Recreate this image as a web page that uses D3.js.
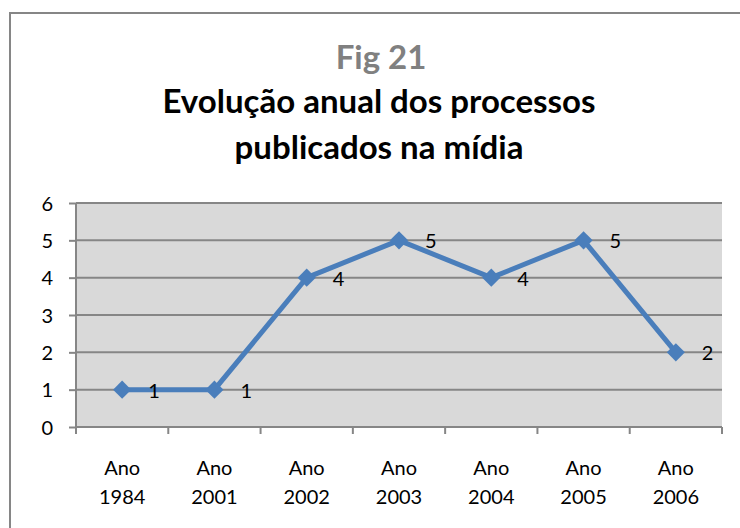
<!DOCTYPE html>
<html><head><meta charset="utf-8">
<script src="https://cdn.jsdelivr.net/npm/d3@7"></script>
<style>body{margin:0;background:#fff}svg{display:block}</style>
</head><body>
<script>
const categories = [["Ano","1984"],["Ano","2001"],["Ano","2002"],["Ano","2003"],["Ano","2004"],["Ano","2005"],["Ano","2006"]];
const values = [1,1,4,5,4,5,2];
const yTicks = [0,1,2,3,4,5,6];
const titleSup = "Fig 21";
const titleLines = ["Evolução anual dos processos","publicados na mídia"];

const W=740,H=528;
const font = "Lato, 'Open Sans', sans-serif";
const svg=d3.select("body").append("svg").attr("width",W).attr("height",H);
svg.append("rect").attr("x",10).attr("y",13).attr("width",740).attr("height",530)
  .attr("fill","#fff").attr("stroke","#868686").attr("stroke-width",2);

const m={l:76,r:722,t:203,b:427};
const x=d3.scaleBand().domain(categories.map((d,i)=>i)).range([m.l,m.r]);
const y=d3.scaleLinear().domain([0,6]).range([m.b,m.t]);

svg.append("rect").attr("x",m.l).attr("y",m.t).attr("width",m.r-m.l).attr("height",m.b-m.t).attr("fill","#d9d9d9");
// gridlines
svg.append("g").selectAll("line").data(yTicks.filter(t=>t>0)).join("line")
  .attr("x1",m.l).attr("x2",m.r).attr("y1",d=>y(d)).attr("y2",d=>y(d))
  .attr("stroke","#868686").attr("stroke-width",2);

// y axis
const ya=svg.append("g").attr("transform",`translate(${m.l},0)`)
  .call(d3.axisLeft(y).tickValues(yTicks).tickSize(7).tickPadding(16).tickFormat(d3.format("d")));
ya.select(".domain").attr("stroke","#868686").attr("stroke-width",2).attr("d",`M0,${m.t}V${m.b}`);
ya.selectAll(".tick line").attr("stroke","#868686").attr("stroke-width",2);
ya.selectAll(".tick text").attr("font-family",font).attr("font-size",20).attr("fill","#000").attr("dy","0.36em");

// x axis
const xa=svg.append("g").attr("transform",`translate(0,${m.b})`);
xa.append("line").attr("x1",m.l).attr("x2",m.r).attr("stroke","#868686").attr("stroke-width",2);
const bounds=d3.range(categories.length+1).map(i=>m.l+i*x.step());
xa.selectAll("line.t").data(bounds).join("line").attr("class","t")
  .attr("x1",d=>d).attr("x2",d=>d).attr("y1",0).attr("y2",7).attr("stroke","#868686").attr("stroke-width",2);
const xl=xa.selectAll("text").data(categories).join("text")
  .attr("font-family",font).attr("font-size",20).attr("text-anchor","middle").attr("fill","#000");
xl.append("tspan").attr("x",(d,i)=>x(i)+x.bandwidth()/2).attr("y",48).text(d=>d[0]);
xl.append("tspan").attr("x",(d,i)=>x(i)+x.bandwidth()/2).attr("y",77).text(d=>d[1]);

// line
const cx=i=>x(i)+x.bandwidth()/2;
svg.append("path").datum(values).attr("fill","none").attr("stroke","#4a7ebb").attr("stroke-width",5)
  .attr("stroke-linejoin","round")
  .attr("d",d3.line().x((d,i)=>cx(i)).y(d=>y(d)));
svg.append("g").selectAll("path").data(values).join("path")
  .attr("d",d3.symbol().type(d3.symbolDiamond2).size(210))
  .attr("transform",(d,i)=>`translate(${cx(i)},${y(d)})`)
  .attr("fill","#4a7ebb");
svg.append("g").selectAll("text").data(values).join("text")
  .attr("x",(d,i)=>cx(i)+26).attr("y",d=>y(d)+8)
  .attr("font-family",font).attr("font-size",20).attr("fill","#000").text(d=>d);

// titles
svg.append("text").attr("x",381).attr("y",69).attr("text-anchor","middle")
  .attr("font-family",font).attr("font-weight","bold").attr("font-size",33).attr("fill","#808080").text(titleSup);
titleLines.forEach((t,i)=>svg.append("text").attr("x",379).attr("y",113+i*46).attr("text-anchor","middle")
  .attr("font-family",font).attr("font-weight","bold").attr("font-size",33).attr("fill","#000").text(t));
</script>
</body></html>
